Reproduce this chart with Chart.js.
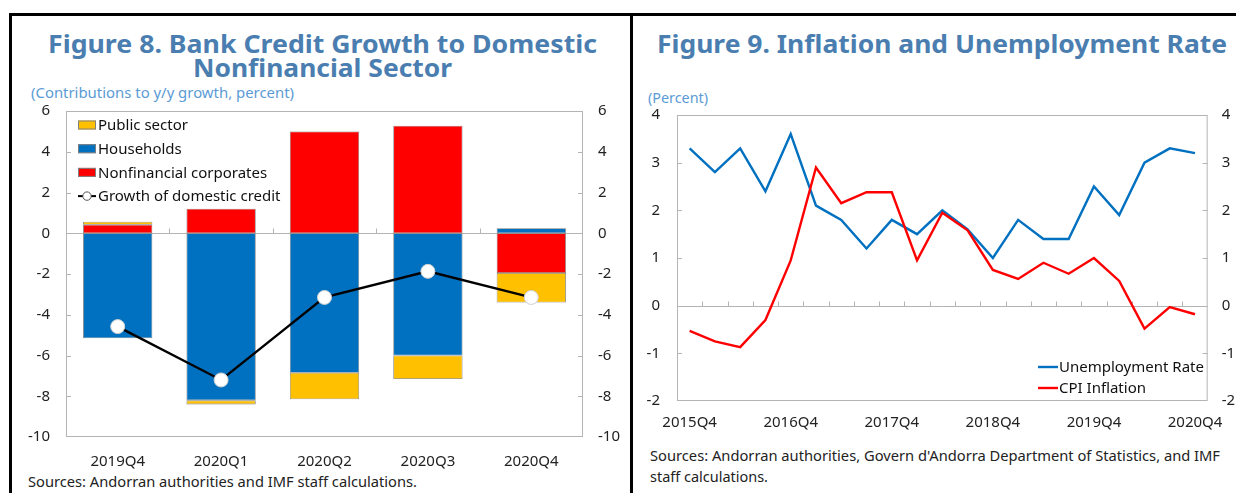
<!DOCTYPE html>
<html>
<head>
<meta charset="utf-8">
<script src="https://cdn.jsdelivr.net/npm/chart.js@4.4.0/dist/chart.umd.min.js"></script>
<style>
  body{margin:0;width:1236px;height:493px;background:#fff;position:relative;overflow:hidden;font-family:"Noto Sans",sans-serif}
  .t{position:absolute;white-space:nowrap;transform-origin:0 0;font-size:15px;line-height:20px;color:#222}
  .title{font-size:25px;line-height:28px;font-weight:700;color:#4a7eb0}
  .sub{color:#5b9bd5}
  .rule{position:absolute;background:#000}
  canvas{position:absolute}
</style>
</head>
<body>
<div class="rule" style="left:9px;top:13px;width:1227px;height:3px"></div>
<div class="rule" style="left:9px;top:13px;width:3px;height:480px"></div>
<div class="rule" style="left:630px;top:13px;width:3px;height:480px"></div>

<div class="t title" style="left:48px;top:29px" data-w="549">Figure 8. Bank Credit Growth to Domestic</div>
<div class="t title" style="left:193px;top:53px" data-w="259">Nonfinancial Sector</div>
<div class="t sub" style="left:31px;top:82px" data-w="263">(Contributions to y/y growth, percent)</div>
<div class="t" style="left:28px;top:471px" data-w="389">Sources: Andorran authorities and IMF staff calculations.</div>

<div class="t title" style="left:657px;top:29px" data-w="570">Figure 9. Inflation and Unemployment Rate</div>
<div class="t sub" style="left:648px;top:87px" data-w="60">(Percent)</div>
<div class="t" style="left:650px;top:445px" data-w="570">Sources: Andorran authorities, Govern d'Andorra Department of Statistics, and IMF</div>
<div class="t" style="left:650px;top:466px" data-w="118">staff calculations.</div>

<canvas id="credit" width="622" height="391" style="left:10px;top:86px"></canvas>
<canvas id="prices" width="603" height="352" style="left:633px;top:89px"></canvas>

<script>
// Figure 8: contributions to credit growth
const quarters = ['2019Q4', '2020Q1', '2020Q2', '2020Q3', '2020Q4'];
const publicSector = [0.15, -0.2, -1.3, -1.15, -1.45];
const households = [-5.15, -8.2, -6.85, -6.0, 0.25];
const corporates = [0.42, 1.2, 5.0, 5.28, -1.95];
const creditGrowth = [-4.58, -7.2, -3.15, -1.87, -3.15];

// Figure 9: inflation and unemployment
const periods = ['2015Q4', '2016Q1', '2016Q2', '2016Q3', '2016Q4', '2017Q1', '2017Q2',
  '2017Q3', '2017Q4', '2018Q1', '2018Q2', '2018Q3', '2018Q4', '2019Q1', '2019Q2',
  '2019Q3', '2019Q4', '2020Q1', '2020Q2', '2020Q3', '2020Q4'];
const unemployment = [3.3, 2.8, 3.3, 2.4, 3.6, 2.1, 1.8, 1.2, 1.8, 1.5, 2.0,
  1.6, 1.0, 1.8, 1.4, 1.4, 2.5, 1.9, 3.0, 3.3, 3.2];
const cpi = [-0.53, -0.75, -0.87, -0.3, 0.95, 2.9, 2.15, 2.38, 2.38, 0.95, 1.95,
  1.58, 0.75, 0.56, 0.9, 0.67, 1.0, 0.52, -0.48, -0.03, -0.18];

const FONT = {family: '"Noto Sans", sans-serif', size: 15};
const INK = '#222';
const GRID = '#b4b4b4';

// stretch text blocks to the width they take in the figure
document.querySelectorAll('[data-w]').forEach(el => {
  const w = +el.dataset.w;
  el.style.transform = `scaleX(${w / el.getBoundingClientRect().width})`;
});

// plot frame, zero line with category ticks, and inner value ticks
const frame = {
  id: 'frame',
  beforeDatasetsDraw(chart) {
    const {ctx, chartArea: a, scales} = chart;
    const x = scales.x, y = scales.y;
    ctx.save();
    ctx.strokeStyle = GRID;
    ctx.lineWidth = 1;
    ctx.strokeRect(a.left + 0.5, a.top + 0.5, a.width - 1, a.height - 1);
    const y0 = Math.round(y.getPixelForValue(0)) + 0.5;
    ctx.beginPath();
    ctx.moveTo(a.left, y0); ctx.lineTo(a.right, y0);
    const n = chart.data.labels.length;
    for (let i = 1; i < n; i++) {
      const px = Math.round(x.getPixelForValue(i - 0.5)) + 0.5;
      ctx.moveTo(px, y0); ctx.lineTo(px, y0 - 5);
    }
    y.ticks.forEach(t => {
      if (t.value === y.min || t.value === y.max || t.value === 0) return;
      const py = Math.round(y.getPixelForValue(t.value)) + 0.5;
      ctx.moveTo(a.left, py); ctx.lineTo(a.left + 5, py);
      ctx.moveTo(a.right - 5, py); ctx.lineTo(a.right, py);
    });
    ctx.stroke();
    ctx.restore();
  }
};

function axis(pos, min, max, step, width, pad, extra) {
  return Object.assign({
    position: pos, min, max,
    grid: {display: false, drawTicks: false},
    border: {display: false},
    ticks: {stepSize: step, padding: pad, color: INK, font: FONT},
    afterFit: s => { s.width = width; }
  }, extra || {});
}

// bars + growth line
const creditLegend = {
  id: 'creditLegend',
  afterDraw(chart) {
    const ctx = chart.ctx;
    const ds = chart.data.datasets;
    const items = [ds[3], ds[1], ds[2], ds[0]];
    ctx.save();
    ctx.font = '15px "Noto Sans", sans-serif';
    ctx.textBaseline = 'middle';
    items.forEach((d, i) => {
      const cy = 39 + i * 23.7;
      if (d.type === 'line') {
        ctx.strokeStyle = d.borderColor; ctx.lineWidth = 2;
        ctx.beginPath(); ctx.moveTo(68, cy); ctx.lineTo(86, cy); ctx.stroke();
        ctx.fillStyle = '#fff'; ctx.strokeStyle = '#555'; ctx.lineWidth = 1;
        ctx.beginPath(); ctx.arc(77, cy, 4.2, 0, Math.PI * 2); ctx.fill(); ctx.stroke();
      } else {
        ctx.fillStyle = d.backgroundColor;
        ctx.fillRect(68, cy - 4.5, 18, 9);
        ctx.strokeStyle = '#808080'; ctx.lineWidth = 1;
        ctx.strokeRect(68.5, cy - 4, 17, 8);
      }
      ctx.fillStyle = '#111';
      ctx.fillText(d.label, 88, cy + 1);
    });
    ctx.restore();
  }
};

const barStyle = {borderColor: '#7a7a7a', borderWidth: 0.8, borderSkipped: false,
  categoryPercentage: 1, barPercentage: 0.67, order: 1, yAxisID: 'y'};

new Chart(document.getElementById('credit'), {
  data: {
    labels: quarters,
    datasets: [
      {type: 'line', label: 'Growth of domestic credit', data: creditGrowth, yAxisID: 'y1',
        borderColor: '#000', borderWidth: 2.4, pointRadius: 7, pointBackgroundColor: '#fff',
        pointBorderColor: '#d0d0d0', pointBorderWidth: 1, tension: 0, order: 0},
      Object.assign({type: 'bar', label: 'Households', data: households, backgroundColor: '#0070c0'}, barStyle),
      Object.assign({type: 'bar', label: 'Nonfinancial corporates', data: corporates, backgroundColor: '#ff0000'}, barStyle),
      Object.assign({type: 'bar', label: 'Public sector', data: publicSector, backgroundColor: '#ffc000'}, barStyle)
    ]
  },
  options: {
    responsive: false, animation: false, devicePixelRatio: 1,
    layout: {padding: 0},
    plugins: {legend: {display: false}, tooltip: {enabled: false}},
    scales: {
      x: {stacked: true, grid: {display: false, drawTicks: false}, border: {display: false},
        ticks: {padding: 16, color: INK, font: FONT, maxRotation: 0},
        afterFit: s => { s.height = 40; }},
      y: axis('left', -10, 6, 2, 56, 16, {stacked: true}),
      y1: axis('right', -10, 6, 2, 49, 15)
    }
  },
  plugins: [frame, creditLegend]
});

// two line series, labelled every fourth quarter
const priceLegend = {
  id: 'priceLegend',
  afterDraw(chart) {
    const ctx = chart.ctx;
    const ds = chart.data.datasets;
    ctx.save();
    ctx.font = '15px "Noto Sans", sans-serif';
    ctx.textBaseline = 'middle';
    ds.forEach((d, i) => {
      const cy = 278 + i * 21;
      ctx.strokeStyle = d.borderColor; ctx.lineWidth = 2.4;
      ctx.beginPath(); ctx.moveTo(405, cy); ctx.lineTo(425, cy); ctx.stroke();
      ctx.fillStyle = '#111';
      ctx.fillText(d.label, 426, cy + 1);
    });
    ctx.restore();
  }
};

new Chart(document.getElementById('prices'), {
  type: 'line',
  data: {
    labels: periods,
    datasets: [
      {label: 'Unemployment Rate', data: unemployment, borderColor: '#0070c0', borderWidth: 2.4,
        pointRadius: 0, tension: 0, order: 1},
      {label: 'CPI Inflation', data: cpi, borderColor: '#ff0000', borderWidth: 2.4,
        pointRadius: 0, tension: 0, order: 0}
    ]
  },
  options: {
    responsive: false, animation: false, devicePixelRatio: 1,
    layout: {padding: 0},
    plugins: {legend: {display: false}, tooltip: {enabled: false}},
    scales: {
      x: {offset: true, grid: {display: false, drawTicks: false}, border: {display: false},
        ticks: {padding: 13, color: INK, font: FONT, maxRotation: 0, autoSkip: false,
          callback: (v, i) => i % 4 === 0 ? periods[i] : ''},
        afterFit: s => { s.height = 40; }},
      y: axis('left', -2, 4, 1, 44, 17),
      y1: axis('right', -2, 4, 1, 28, 14)
    }
  },
  plugins: [frame, priceLegend]
});
</script>
</body>
</html>
